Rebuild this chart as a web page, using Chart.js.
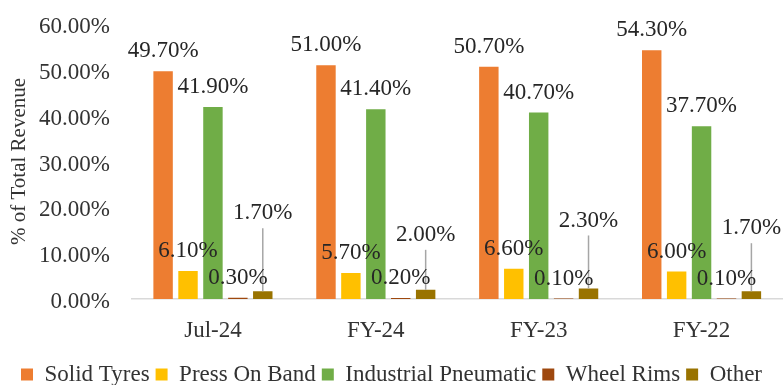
<!DOCTYPE html>
<html><head><meta charset="utf-8">
<script src="https://cdn.jsdelivr.net/npm/chart.js@4/dist/chart.umd.min.js"></script>
<style>html,body{margin:0;padding:0;background:#fff}#wrap{width:783px;height:385px;position:relative}</style>
</head><body><div id="wrap"><canvas id="c"></canvas></div>
<script>
// ---- data ----
const categories = ['Jul-24', 'FY-24', 'FY-23', 'FY-22'];
const seriesNames = ['Solid Tyres', 'Press On Band', 'Industrial Pneumatic', 'Wheel Rims', 'Other'];
const solidTyres = [49.7, 51.0, 50.7, 54.3];
const pressOnBand = [6.1, 5.7, 6.6, 6.0];
const industrialPneumatic = [41.9, 41.4, 40.7, 37.7];
const wheelRims = [0.3, 0.2, 0.1, 0.1];
const other = [1.7, 2.0, 2.3, 1.7];
const yAxisMin = 0, yAxisMax = 60, yAxisStep = 10;
const yAxisTitle = '% of Total Revenue';

// ---- styles ----
const seriesColors = ['#ED7D31', '#FFC000', '#70AD47', '#9E480E', '#997300'];
const otherLabelLift = [78, 55, 68, 63]; // label lift (px) for the "Other" series, which uses leader lines
const FONT = '"Liberation Serif", "Times New Roman", serif';
const TEXT = '#333333';

const seriesValues = [solidTyres, pressOnBand, industrialPneumatic, wheelRims, other];

const labelPlugin = {
  id: 'barLabels',
  afterDatasetsDraw(chart) {
    const ctx = chart.ctx;
    ctx.save();
    const metaO = chart.getDatasetMeta(4);
    ctx.strokeStyle = '#a6a6a6';
    ctx.lineWidth = 1.5;
    metaO.data.forEach((bar, i) => {
      const ty = bar.y - otherLabelLift[i];
      ctx.beginPath();
      ctx.moveTo(bar.x, ty + 15);
      ctx.lineTo(bar.x, bar.y);
      ctx.stroke();
    });
    ctx.font = '23px ' + FONT;
    ctx.textAlign = 'center';
    ctx.textBaseline = 'middle';
    ctx.fillStyle = '#262626';
    chart.data.datasets.forEach((ds, di) => {
      const meta = chart.getDatasetMeta(di);
      meta.data.forEach((bar, i) => {
        const lift = di === 4 ? otherLabelLift[i] : 20;
        ctx.fillText(ds.data[i].toFixed(2) + '%', bar.x, bar.y - lift);
      });
    });
    ctx.restore();
  }
};

const legendFit = {
  id: 'legendFit',
  beforeInit(chart) {
    const lg = chart.legend;
    if (!lg) return;
    const f = lg.fit;
    lg.fit = function () { f.call(this); this.height = 28; };
  }
};

new Chart(document.getElementById('c'), {
  type: 'bar',
  data: {
    labels: categories,
    datasets: seriesNames.map((name, i) => ({
      label: name,
      data: seriesValues[i],
      backgroundColor: seriesColors[i],
      borderWidth: 0,
      barPercentage: 0.78,
      categoryPercentage: 0.765
    }))
  },
  options: {
    responsive: true,
    maintainAspectRatio: false,
    animation: false,
    layout: { padding: { top: 24, right: 0, bottom: 0, left: 0 } },
    plugins: {
      tooltip: { enabled: false },
      legend: {
        position: 'bottom',
        labels: {
          boxWidth: 12, boxHeight: 12, padding: 6,
          color: TEXT,
          font: { family: FONT, size: 23 }
        }
      }
    },
    scales: {
      x: {
        grid: { display: false },
        border: { display: true, color: '#d9d9d9', width: 1.5 },
        ticks: { color: TEXT, font: { family: FONT, size: 23 }, padding: 10 },
        afterFit(s) { s.height = 58; }
      },
      y: {
        min: yAxisMin, max: yAxisMax,
        grid: { display: false, drawTicks: false },
        border: { display: false },
        ticks: {
          stepSize: yAxisStep,
          color: TEXT,
          padding: 21.5,
          labelOffset: 3,
          font: { family: FONT, size: 23 },
          callback: v => Number(v).toFixed(2) + '%'
        },
        title: {
          display: true, text: yAxisTitle, color: TEXT,
          font: { family: FONT, size: 21 }, padding: { top: 7, bottom: 0 }
        },
        afterFit(s) { s.width = 131.5; s.paddingTop = 0; s.paddingBottom = 0; }
      }
    }
  },
  plugins: [labelPlugin, legendFit]
});
</script>
</body></html>
